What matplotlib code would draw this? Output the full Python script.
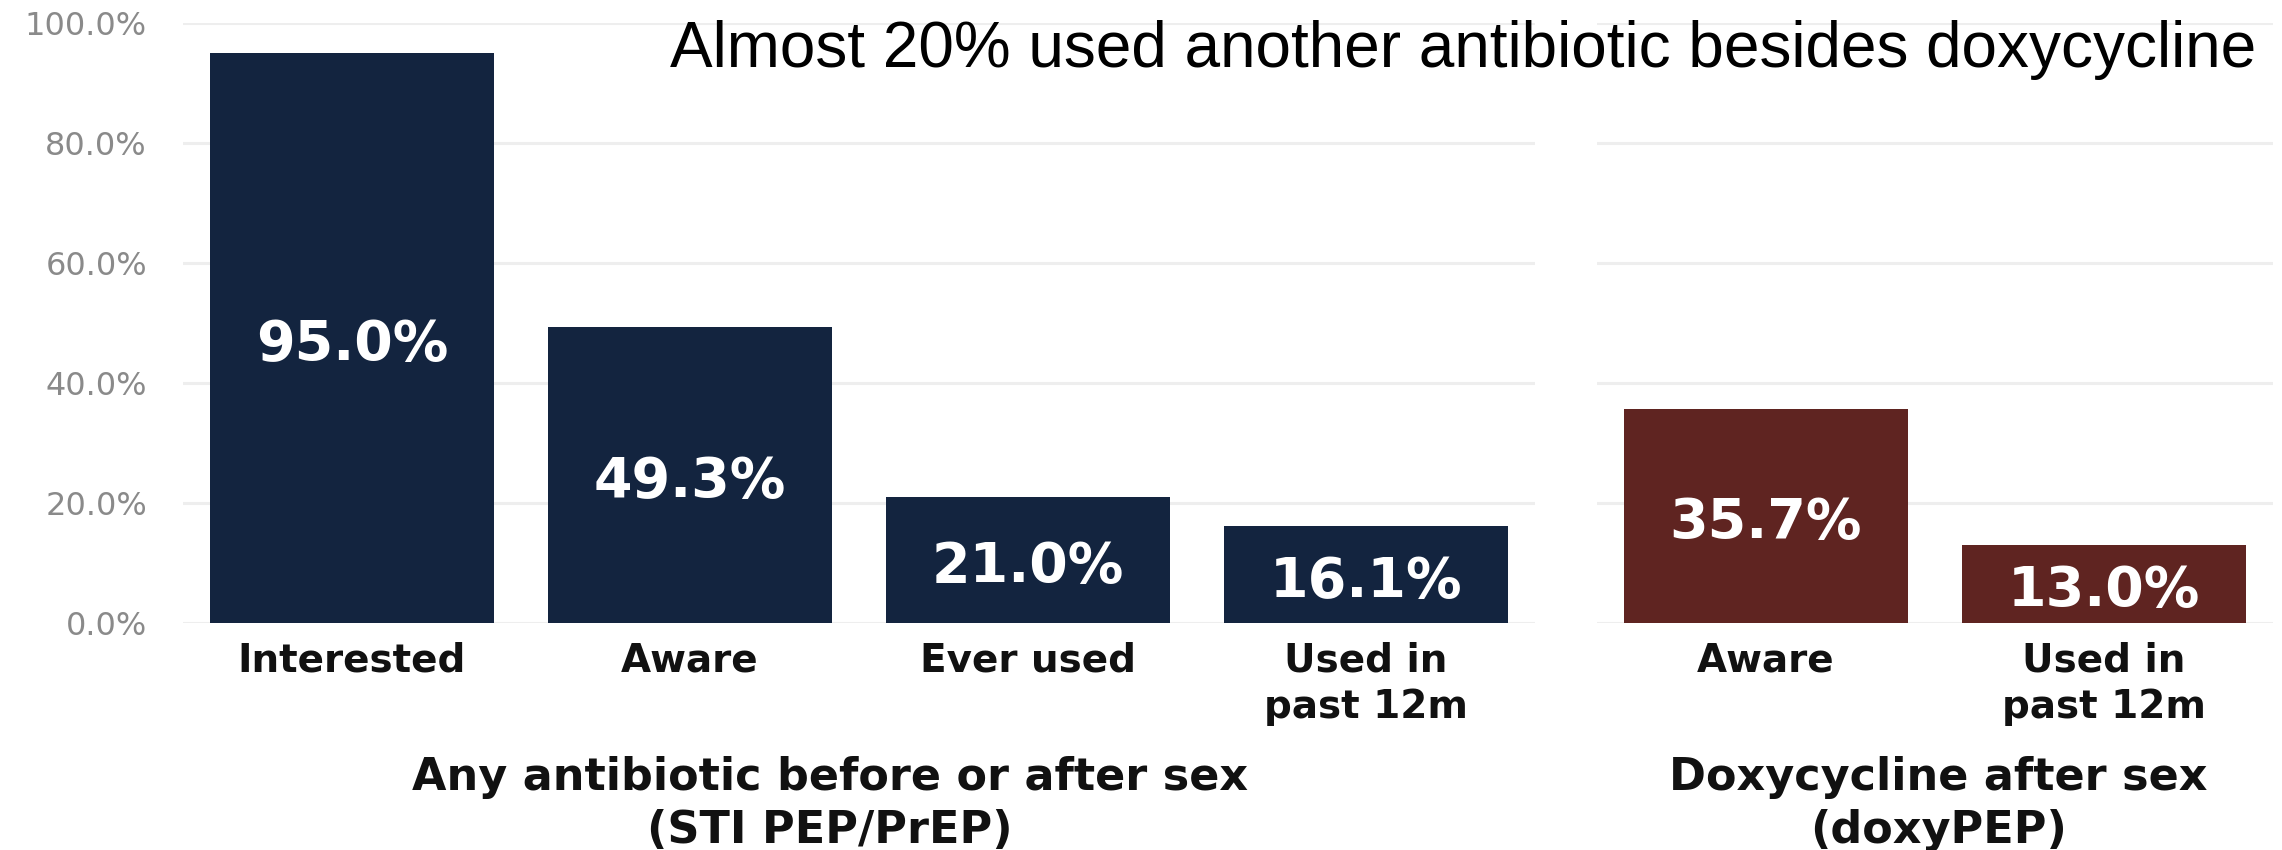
import matplotlib
matplotlib.use("Agg")
import matplotlib.pyplot as plt

# data
any_labels = ["Interested", "Aware", "Ever used", "Used in\npast 12m"]
any_values = [95.0, 49.3, 21.0, 16.1]
doxy_labels = ["Aware", "Used in\npast 12m"]
doxy_values = [35.7, 13.0]
y_ticks = [0, 20, 40, 60, 80, 100]
group_any = "Any antibiotic before or after sex\n(STI PEP/PrEP)"
group_doxy = "Doxycycline after sex\n(doxyPEP)"
headline = "Almost 20% used another antibiotic besides doxycycline"

NAVY = "#13243f"
MAROON = "#5f2421"
GRID = "#eeeeee"

fig = plt.figure(figsize=(22.82, 8.5), dpi=100)
ax1 = fig.add_axes([0.0802, 0.2671, 0.5925, 0.7059])
ax2 = fig.add_axes([0.6998, 0.2671, 0.2962, 0.7059])


def draw_panel(ax, labels, values, color, show_y):
    xs = list(range(len(values)))
    ax.bar(xs, values, width=0.84, color=color, zorder=2)
    ax.set_xlim(-0.5, len(values) - 0.5)
    ax.set_ylim(0, 100)
    ax.set_yticks(y_ticks)
    ax.grid(axis="y", color=GRID, linewidth=2.2, zorder=0)
    ax.set_axisbelow(True)
    for s in ax.spines.values():
        s.set_visible(False)
    ax.set_xticks(xs)
    ax.set_xticklabels(labels, fontsize=28, fontweight="bold", color="#111111",
                       linespacing=1.3)
    ax.tick_params(axis="x", length=0, pad=13)
    if show_y:
        ax.set_yticklabels([f"{t:.1f}%" for t in y_ticks], fontsize=23, color="#8a8a8a")
        ax.tick_params(axis="y", length=0, pad=26)
    else:
        ax.tick_params(axis="y", length=0, labelleft=False)
    # value labels sit a little below the bar middle
    for x, v in zip(xs, values):
        ax.text(x, v / 2 - 1.2, f"{v:.1f}%", ha="center", va="center", color="white",
                fontsize=40, fontweight="bold")


draw_panel(ax1, any_labels, any_values, NAVY, True)
draw_panel(ax2, doxy_labels, doxy_values, MAROON, False)

fig.text(0.3637, 0.1106, group_any, ha="center", va="top", fontsize=32,
         fontweight="bold", color="#111111", linespacing=1.3)
fig.text(0.8493, 0.1106, group_doxy, ha="center", va="top", fontsize=32,
         fontweight="bold", color="#111111", linespacing=1.3)

fig.text(670 / 2282, 1 - 67 / 850, headline, ha="left", va="baseline",
         fontsize=46, family=["Liberation Sans", "DejaVu Sans"], color="black")

fig.savefig("out.png", dpi=100)
